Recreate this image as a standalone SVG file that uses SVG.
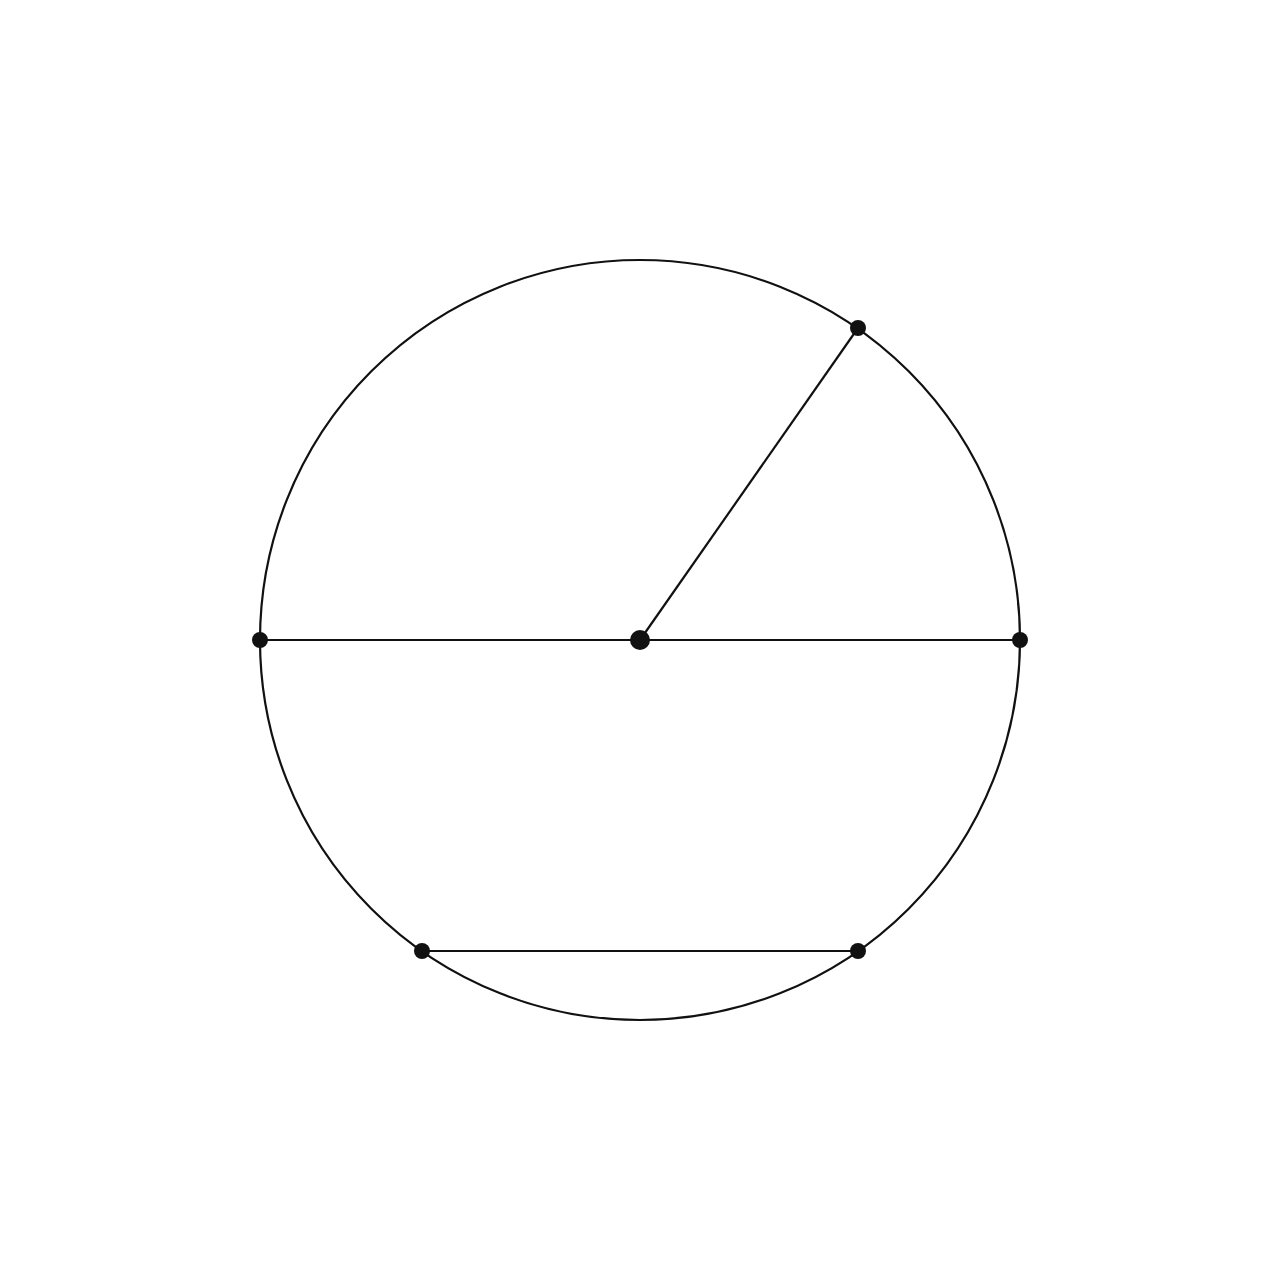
<svg xmlns="http://www.w3.org/2000/svg" width="1280" height="1280" viewBox="0 0 1280 1280">
<style>
.ln{stroke:#111;stroke-width:2.2;fill:none}
.pt{fill:#111}
</style>
<rect width="1280" height="1280" fill="#fff"/>
<g id="circle"><circle class="ln" cx="640" cy="640" r="380"/></g>
<g id="connectors">
<line class="ln" x1="260" y1="640" x2="1020" y2="640"/>
<line class="ln" x1="640" y1="640" x2="858" y2="328"/>
<line class="ln" x1="422" y1="951" x2="858" y2="951"/>
</g>
<g id="center"><circle class="pt" cx="640" cy="640" r="10"/></g>
<g id="pA"><circle class="pt" cx="260" cy="640" r="8"/></g>
<g id="pB"><circle class="pt" cx="1020" cy="640" r="8"/></g>
<g id="pC"><circle class="pt" cx="858" cy="328" r="8"/></g>
<g id="pD"><circle class="pt" cx="422" cy="951" r="8"/></g>
<g id="pE"><circle class="pt" cx="858" cy="951" r="8"/></g>
</svg>
